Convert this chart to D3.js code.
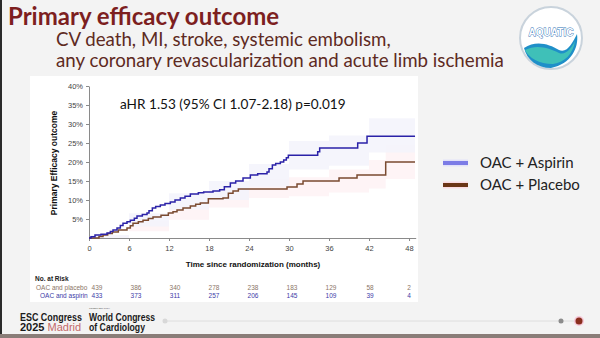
<!DOCTYPE html>
<html>
<head>
<meta charset="utf-8">
<script src="https://cdn.jsdelivr.net/npm/d3@7"></script>
<style>
  html, body { margin: 0; padding: 0; background: #f3f3f3; }
  svg { display: block; font-family: "Open Sans", "Liberation Sans", sans-serif; }
</style>
</head>
<body>
<svg id="slide" width="600" height="338"></svg>
<script>
// Kaplan-Meier step points: [month, cumulative %]
const aspirinSteps = [
  [0, 0], [0.3, 0.3], [0.9, 0.8], [1.8, 1.0], [2.7, 1.3], [3.2, 1.7], [3.6, 2.1], [4.2, 2.6],
  [4.7, 3.3], [5.1, 3.9], [5.7, 4.3], [6.2, 4.7], [6.8, 5.2], [7.2, 5.8], [8.0, 6.2], [8.7, 6.6],
  [9.0, 7.2], [9.5, 7.9], [10.0, 8.3], [10.7, 8.7], [11.4, 9.1], [12.2, 9.5], [12.9, 10.0],
  [13.7, 10.5], [14.4, 11.0], [15.2, 11.6], [16.4, 11.9], [17.2, 12.1], [18.6, 12.4], [19.6, 12.7],
  [20.3, 13.5], [21.2, 14.5], [22.0, 15.0], [23.1, 15.8], [24.2, 16.6], [25.3, 16.9], [26.7, 17.4],
  [27.0, 18.2], [27.5, 19.2], [28.0, 19.6], [28.7, 20.0], [29.2, 20.5], [29.6, 21.1], [29.9, 21.8],
  [34.3, 22.7], [34.6, 23.7], [40.3, 25.0], [41.7, 26.8], [48.9, 26.8]
];
const placeboSteps = [
  [0, 0], [1.5, 0.4], [2.1, 0.8], [2.8, 1.2], [3.5, 1.6], [4.4, 2.1], [5.7, 2.6], [6.2, 3.2],
  [6.6, 3.9], [7.4, 4.3], [8.1, 4.7], [8.9, 5.1], [9.6, 5.5], [10.8, 6.0], [11.9, 6.6], [12.6, 6.9],
  [13.2, 7.4], [14.1, 7.9], [15.2, 8.4], [16.0, 8.9], [16.7, 9.2], [17.9, 10.3], [20.1, 10.5],
  [20.9, 11.8], [21.6, 12.4], [22.4, 12.9], [29.7, 13.4], [31.2, 14.2], [32.1, 15.0], [37.5, 15.8],
  [40.2, 16.6], [44.5, 20.0], [48.9, 20.0]
];
// confidence bands: [month, lower %, upper %]
const aspirinBand = [
  [0, 0, 0.8], [6, 3, 6.5], [12, 7.5, 11.8], [18, 10, 15], [24, 13.5, 19.5],
  [30, 18, 25.5], [36, 19, 27], [42, 22.5, 31.5], [48.9, 22.5, 31.5]
];
const placeboBand = [
  [0, 0, 0.4], [6, 1.8, 4.5], [12, 4.8, 8.5], [18, 8, 12.5], [24, 10.5, 15.5],
  [30, 11, 16], [36, 12, 18], [42, 13, 20.5], [44.5, 15.5, 24.5], [48.9, 15.5, 24.5]
];
const xTicks = [0, 6, 12, 18, 24, 30, 36, 42, 48];
const yTicks = [5, 10, 15, 20, 25, 30, 35, 40];
const riskPlacebo = [439, 386, 340, 278, 238, 183, 129, 58, 2];
const riskAspirin = [433, 373, 311, 257, 206, 145, 109, 39, 4];
const legendItems = ["OAC + Aspirin", "OAC + Placebo"];

const svg = d3.select('#slide');

// slide frame
svg.append('rect').attr('x', 0).attr('y', 0).attr('width', 600).attr('height', 338).attr('fill', '#f3f3f3');
svg.append('rect').attr('x', 30).attr('y', 76).attr('width', 388).attr('height', 226).attr('fill', '#ffffff');
svg.append('rect').attr('x', 0).attr('y', 0).attr('width', 2).attr('height', 338).attr('fill', '#2a2a2a');
svg.append('rect').attr('x', 0).attr('y', 334).attr('width', 600).attr('height', 4).attr('fill', '#8a7d78');

// title block
svg.append('text').attr('x', 8).attr('y', 25)
  .attr('font-family', 'Lato, "Open Sans", sans-serif')
  .attr('font-size', 24).attr('font-weight', 'bold').attr('fill', '#7d1f1f')
  .text('Primary efficacy outcome');
const subLines = ['CV death, MI, stroke, systemic embolism,', 'any coronary revascularization and acute limb ischemia'];
svg.selectAll('text.sub').data(subLines).enter().append('text')
  .attr('class', 'sub')
  .attr('x', 56).attr('y', (d, i) => 46 + i * 21)
  .attr('font-family', 'Lato, "Open Sans", sans-serif')
  .attr('font-size', 18.7).attr('fill', '#5e2a22')
  .text(d => d);

// logo
const logo = svg.append('g').attr('transform', 'translate(551,38)');
logo.append('circle').attr('r', 31).attr('fill', '#ffffff').attr('stroke', '#c9d3dc').attr('stroke-width', 2);
logo.append('path')
  .attr('d', 'M-27,10 C-15,2 -2,6 8,12 C16,16 22,4 26,-4 C28,10 20,26 0,30 C-14,30 -24,22 -27,10 Z')
  .attr('fill', '#1f8fc8');
logo.append('path')
  .attr('d', 'M-26,12 C-14,6 -2,10 8,15 C15,18 21,9 24,3 C22,16 14,24 2,26 C-12,26 -22,20 -26,12 Z')
  .attr('fill', '#3fc0b8');
logo.append('text').attr('x', 0).attr('y', -2).attr('text-anchor', 'middle')
  .attr('font-family', '"Liberation Sans", sans-serif').attr('font-weight', 'bold')
  .attr('font-size', 10).attr('fill', '#ffffff').attr('stroke', '#2b6fb5').attr('stroke-width', 0.8)
  .attr('paint-order', 'stroke')
  .text('AQUATIC');

// chart scales
const x = d3.scaleLinear().domain([0, 49]).range([89, 415.7]);
const y = d3.scaleLinear().domain([0, 40]).range([238, 86]);

// bands (very faint)
const band = d3.area().curve(d3.curveStepAfter)
  .x(d => x(d[0])).y0(d => y(d[1])).y1(d => y(d[2]));
svg.append('path').datum(placeboBand).attr('d', band).attr('fill', '#fef4f6');
svg.append('path').datum(aspirinBand).attr('d', band).attr('fill', '#f3f3fc').attr('opacity', 0.85);

// axes
const xAxis = svg.append('g').attr('transform', `translate(0,${y(0)})`)
  .call(d3.axisBottom(x).tickValues(xTicks).tickSize(3).tickSizeOuter(0));
const yAxis = svg.append('g').attr('transform', `translate(${x(0)},0)`)
  .call(d3.axisLeft(y).tickValues(yTicks).tickFormat(d => d + '%').tickSize(3).tickSizeOuter(0));
[xAxis, yAxis].forEach(a => {
  a.select('.domain').attr('stroke', '#8a8a8a');
  a.selectAll('.tick line').attr('stroke', '#8a8a8a');
  a.selectAll('.tick text').attr('font-size', 7.5).attr('fill', '#444')
    .attr('font-family', '"Liberation Sans", Arial, sans-serif');
});
xAxis.selectAll('.tick text').attr('dy', '0.9em');

// axis titles
svg.append('text').attr('x', 253).attr('y', 267).attr('text-anchor', 'middle')
  .attr('font-family', '"Liberation Sans", Arial, sans-serif')
  .attr('font-size', 8).attr('font-weight', 'bold').attr('fill', '#111')
  .text('Time since randomization (months)');
svg.append('text').attr('transform', 'translate(57,163) rotate(-90)').attr('text-anchor', 'middle')
  .attr('font-family', '"Liberation Sans", Arial, sans-serif')
  .attr('font-size', 8.5).attr('font-weight', 'bold').attr('fill', '#111')
  .text('Primary Efficacy outcome');

// KM curves
const step = d3.line().curve(d3.curveStepAfter).x(d => x(d[0])).y(d => y(d[1]));
svg.append('path').datum(placeboSteps).attr('d', step)
  .attr('fill', 'none').attr('stroke', '#7a4a30').attr('stroke-width', 1.5);
svg.append('path').datum(aspirinSteps).attr('d', step)
  .attr('fill', 'none').attr('stroke', '#2b22a8').attr('stroke-width', 1.5);

// hazard ratio annotation
svg.append('text').attr('x', 120).attr('y', 109)
  .attr('font-family', 'Lato, "Open Sans", sans-serif')
  .attr('font-size', 13.6).attr('fill', '#111')
  .text('aHR 1.53 (95% CI 1.07-2.18) p=0.019');

// legend
const legColors = ['#7c7ce6', '#6b3516'];
const leg = svg.selectAll('g.leg').data(legendItems).enter().append('g')
  .attr('class', 'leg')
  .attr('transform', (d, i) => `translate(443,${163 + i * 22})`);
leg.append('line').attr('x1', 0).attr('x2', 25).attr('y1', 0).attr('y2', 0)
  .attr('stroke', (d, i) => i === 0 ? '#e2e2f8' : '#fadbe2').attr('stroke-width', 7);
leg.append('line').attr('x1', 0).attr('x2', 25).attr('y1', 0).attr('y2', 0)
  .attr('stroke', (d, i) => legColors[i]).attr('stroke-width', 4);
leg.append('text').attr('x', 37).attr('y', 0).attr('dy', '0.35em')
  .attr('font-family', 'Lato, "Open Sans", sans-serif')
  .attr('font-size', 15).attr('fill', '#222')
  .text(d => d);

// number at risk
const riskFont = '"Liberation Sans", Arial, sans-serif';
svg.append('text').attr('x', 35).attr('y', 281).attr('font-family', riskFont)
  .attr('font-size', 6.5).attr('font-weight', 'bold').attr('fill', '#222').text('No. at Risk');
const riskRows = [
  { label: 'OAC and placebo', values: riskPlacebo, color: '#8b7566', lx: 36, y: 290 },
  { label: 'OAC and aspirin', values: riskAspirin, color: '#3c3ca8', lx: 40, y: 297.5 }
];
riskRows.forEach(row => {
  svg.append('text').attr('x', row.lx).attr('y', row.y).attr('font-family', riskFont)
    .attr('font-size', 6.5).attr('fill', row.color).text(row.label);
  svg.selectAll(null).data(row.values).enter().append('text')
    .attr('x', (d, i) => x(xTicks[i]) + 8 - xTicks[i] / 6)
    .attr('y', row.y).attr('text-anchor', 'middle')
    .attr('font-family', riskFont).attr('font-size', 6.5).attr('fill', row.color)
    .text(d => d);
});

// footer
const foot = '"Liberation Sans", Arial, sans-serif';
const footText = (tx, ty, len, str) => svg.append('text').attr('x', tx).attr('y', ty)
  .attr('font-family', foot).attr('font-size', 11).attr('font-weight', 'bold')
  .attr('fill', '#1a1a1a').attr('textLength', len).attr('lengthAdjust', 'spacingAndGlyphs')
  .text(str);
footText(20, 320.5, 62, 'ESC Congress');
footText(89, 320.5, 66, 'World Congress');
footText(89, 331, 56, 'of Cardiology');
const yr = svg.append('text').attr('x', 20).attr('y', 331).attr('font-family', foot)
  .attr('font-size', 11).attr('fill', '#1a1a1a');
yr.append('tspan').attr('font-weight', 'bold').text('2025');
yr.append('tspan').attr('dx', 3).attr('fill', '#c46a6a').text('Madrid');
svg.append('text').attr('x', 89).attr('y', 309).attr('font-family', foot)
  .attr('font-size', 2.5).attr('fill', '#555').text('TOGETHER WITH');

svg.append('line').attr('x1', 165).attr('x2', 578).attr('y1', 321).attr('y2', 321)
  .attr('stroke', '#dedede').attr('stroke-width', 1);
svg.append('circle').attr('cx', 165).attr('cy', 321).attr('r', 2.5).attr('fill', '#d8d8d8');
svg.append('circle').attr('cx', 561).attr('cy', 321).attr('r', 2.5).attr('fill', '#8c8c8c');
svg.append('circle').attr('cx', 579).attr('cy', 321).attr('r', 5).attr('fill', '#f5c8d8');
svg.append('circle').attr('cx', 579).attr('cy', 321).attr('r', 3.5).attr('fill', '#8a2e1e');
</script>
</body>
</html>
